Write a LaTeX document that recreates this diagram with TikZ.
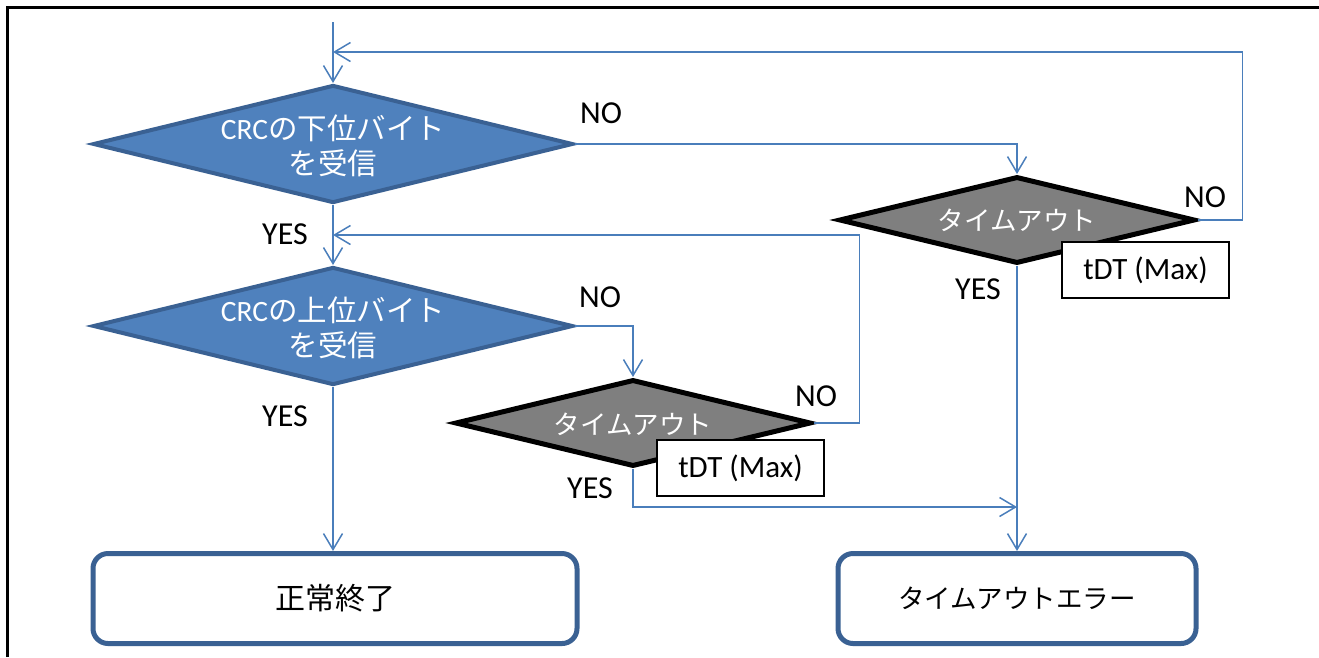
\documentclass[tikz,border=0pt]{standalone}
\usepackage{fontspec}
\setmainfont{Carlito}
\newfontfamily\jp{Noto Sans CJK JP}
\usetikzlibrary{shapes.geometric,arrows.meta}
\definecolor{lineblue}{HTML}{4A7EBB}
\definecolor{fillblue}{HTML}{4F81BD}
\definecolor{edgeblue}{HTML}{3A6193}
\definecolor{midgray}{HTML}{7F7F7F}
\begin{document}
\begin{tikzpicture}[x=1pt,y=-1pt,
  conn/.style={draw=lineblue, line width=1.5pt, -{Straight Barb[length=16pt,width=19pt]}},
  bluedia/.style={diamond, draw=edgeblue, fill=fillblue, line width=4pt, minimum width=480pt, minimum height=118pt, inner sep=0pt},
  graydia/.style={diamond, draw=black, fill=midgray, line width=5pt, minimum width=356pt, minimum height=87pt, inner sep=0pt},
  diatext/.style={text=white, align=center, inner sep=0pt, font=\fontsize{29.5}{35}\selectfont},
  tdtbox/.style={draw=black, fill=white, line width=2pt, minimum width=167pt, minimum height=56pt, inner sep=0pt, font=\fontsize{31}{36}\selectfont},
  endbox/.style={draw=edgeblue, fill=white, line width=5pt, rounded corners=15pt, inner sep=0pt},
  lbl/.style={inner sep=0pt, font=\fontsize{32}{38}\selectfont}
]
\useasboundingbox (0,0) rectangle (1319,657);
% frame
\draw[line width=3pt] (7,657) -- (7,7) -- (1319,7);

% decision nodes
\node[bluedia] (d1) at (333,144) {};
\node[diatext] (t1) at (333,146) {CRC{\jp の下位バイト}\\{\jp を受信}};
\node[bluedia] (d2) at (333,326) {};
\node[diatext] (t2) at (333,328) {CRC{\jp の上位バイト}\\{\jp を受信}};
\node[graydia] (d3) at (1017,220) {};
\node[diatext, font=\fontsize{26.5}{30}\selectfont\jp] (t3) at (1017,220) {タイムアウト};
\node[graydia] (d4) at (633,423) {};
\node[diatext, font=\fontsize{26.5}{30}\selectfont\jp] (t4) at (633,424) {タイムアウト};

% tDT boxes
\node[tdtbox] (x3) at (1145.5,270) {tDT (Max)};
\node[tdtbox] (x4) at (740.5,468) {tDT (Max)};

% end boxes
\node[endbox, minimum width=484pt, minimum height=90pt, font=\fontsize{30}{34}\selectfont\jp] (b1) at (335,598.5) {正常終了};
\node[endbox, minimum width=358pt, minimum height=90pt, font=\fontsize{26.5}{30}\selectfont\jp] (b2) at (1017,598.5) {タイムアウトエラー};

% helper coordinates
\coordinate (s0) at (333,22);
\coordinate (m1) at (333,52);
\coordinate (m2) at (333,235);
\coordinate (m3) at (1017,507);

% connectors
\draw[conn] (s0) -- (d1.north);
\draw[conn] (d1.east) -| (d3.north);
\draw[conn] (d3.east) -- ++(45,0) |- (m1);
\draw[conn] (d1.south) -- (d2.north);
\draw[conn] (d4.east) -- ++(46,0) |- (m2);
\draw[conn] (d2.east) -| (d4.north);
\draw[conn] (d2.south) -- (d2.south |- b1.north);
\draw[conn] (d4.south) |- (m3);
\draw[conn] (d3.south) -- (b2.north);

% labels
\node[lbl] (n1) at (601,113) {NO};
\node[lbl] (y1) at (285,234) {YES};
\node[lbl] (n2) at (600,297) {NO};
\node[lbl] (y2) at (285,416) {YES};
\node[lbl] (n4) at (816,396) {NO};
\node[lbl] (y4) at (590,488) {YES};
\node[lbl] (n3) at (1205,197) {NO};
\node[lbl] (y3) at (978,289) {YES};
\end{tikzpicture}
\end{document}
